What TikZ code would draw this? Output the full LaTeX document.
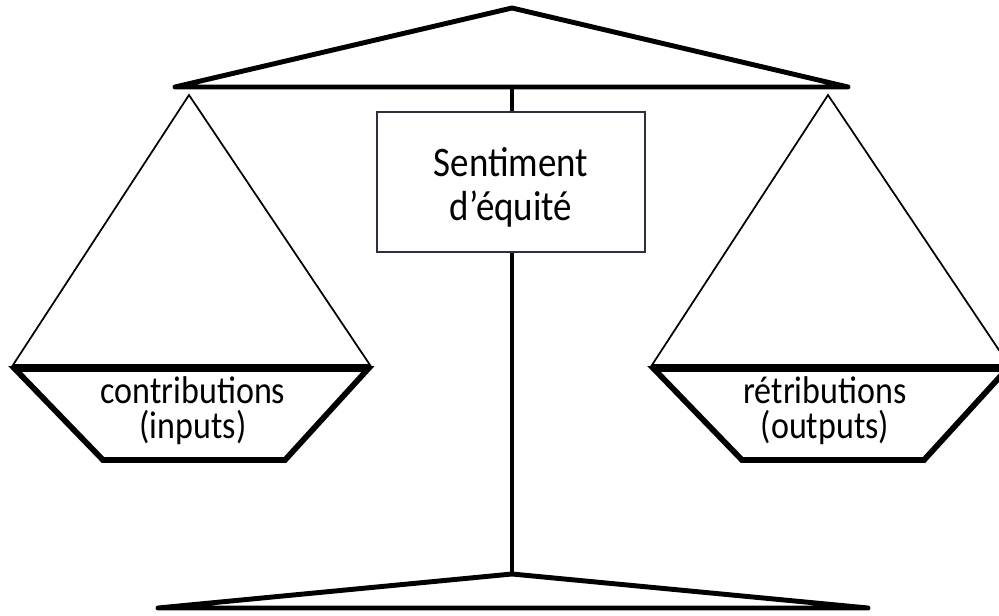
\documentclass[tikz,border=0pt]{standalone}
\usepackage{fontspec}
\setmainfont{Carlito}
\newfontfamily\tallcal[FakeStretch=0.88]{Carlito}
\definecolor{boxline}{RGB}{45,48,66}
\tikzset{
  heavy/.style={line width=3.7pt, line join=round, line cap=round},
  panedge/.style={line width=4.3pt, line join=miter},
  cord/.style={line width=1.3pt, line join=miter},
  post/.style={line width=2.5pt},
  centrebox/.style={draw=boxline, line width=1.6pt, minimum width=201pt, minimum height=105pt, inner sep=0pt},
  boxtext/.style={align=center, inner sep=0pt, font=\tallcal\fontsize{31.5pt}{33pt}\selectfont},
  pantext/.style={align=center, inner sep=0pt, font=\tallcal\fontsize{29pt}{26.5pt}\selectfont}
}
\begin{document}
\begin{tikzpicture}[x=0.75pt,y=-0.75pt]
\useasboundingbox (0,0) rectangle (999,616);
\clip (0,0) rectangle (999,616);
% top beam
\coordinate (topapex) at (512,8);
\coordinate (beamL) at (175,87);
\coordinate (beamR) at (848,87);
\coordinate (beamM) at (512,87);
\draw[heavy] (beamL) -- (topapex) -- (beamR) -- cycle;
% central box
\node[centrebox] (box) at (511,182) {};
\node[boxtext] (feeling) at (511,187) {Sentiment\\d’équité};
\draw[post] (beamM) -- (box.north -| beamM);
% bottom base
\coordinate (botapex) at (512,574);
\coordinate (baseL) at (158,608);
\coordinate (baseR) at (868,608);
\draw[post] (box.south -| botapex) -- (botapex);
\draw[heavy] (baseL) -- (botapex) -- (baseR) -- cycle;
% left pan
\coordinate (lapex) at (189,95);
\draw[cord] (lapex) -- (13,365) -- (370,365) -- cycle;
\draw[panedge] (15,369) -- (368,369) -- (285,460) -- (103,460) -- cycle;
\node[pantext] (inputs) at (193,411) {contributions\\(inputs)};
% right pan
\coordinate (rapex) at (828,95);
\draw[cord] (rapex) -- (652,365) -- (1009,365) -- cycle;
\draw[panedge] (654,369) -- (1007,369) -- (924,460) -- (742,460) -- cycle;
\node[pantext] (outputs) at (825,411) {rétributions\\(outputs)};
\end{tikzpicture}
\end{document}
